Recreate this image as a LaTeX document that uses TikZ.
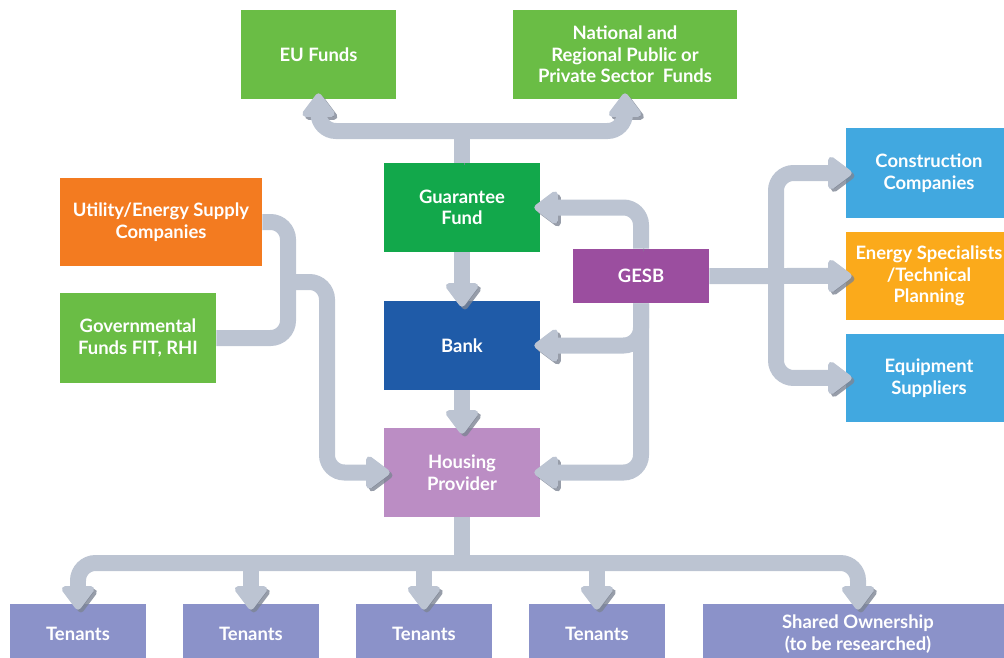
\documentclass[tikz,border=0pt]{standalone}
\usepackage{fontspec}
\setmainfont{Lato}
\usetikzlibrary{arrows.meta}
\definecolor{fundgreen}{HTML}{6ABD45}
\definecolor{guargreen}{HTML}{12A84B}
\definecolor{utilorange}{HTML}{F37B20}
\definecolor{gesbpurple}{HTML}{9B4E9F}
\definecolor{bankblue}{HTML}{1F5BA8}
\definecolor{houselilac}{HTML}{BB8DC4}
\definecolor{supplyblue}{HTML}{41A8E0}
\definecolor{specorange}{HTML}{FBAA1B}
\definecolor{tenantblue}{HTML}{8B92C9}
\definecolor{pipegray}{HTML}{BCC4D2}
\definecolor{pipeshade}{HTML}{7D8594}

\begin{document}
\begin{tikzpicture}
[x=0.02cm, y=-0.02cm, node distance=3.46cm, font=\fontsize{10.5}{12.3}\selectfont\bfseries]
\tikzstyle{box}=[inner sep=0mm, text=white, align=center, minimum width=3.12cm, minimum height=1.78cm]
\tikzstyle{pipe}=[draw=pipegray, line width=0.32cm, rounded corners=0.35cm, preaction={draw=pipeshade, opacity=0.8, transform canvas={xshift=1.6pt, yshift=-1.6pt}}]
\tikzstyle{pointed}=[-{Triangle[width=0.74cm, length=0.52cm, round, line width=4pt]}, shorten >=-0.12cm]
\useasboundingbox (0,0) rectangle (1004,657);

% funds and finance chain
\node[box, fill=fundgreen, minimum width=3.1cm]	(eu)	at (318.5,54.5)	{EU Funds};
\node[box, fill=fundgreen, minimum width=4.48cm]	(nat)	at (625,54.5)	{National and\\Regional Public or\\Private Sector\ \ Funds};
\node[box, fill=guargreen]	(guar)	at (462,207.5)	{Guarantee\\Fund};
\node[box, fill=bankblue]	(bank)	at (462,345.5)	{Bank};
\node[box, fill=houselilac]	(house)	at (462,472.5)	{Housing\\Provider};
\node[box, fill=utilorange, minimum width=4.04cm, minimum height=1.76cm]	(util)	at (161,222)	{Utility/Energy Supply\\Companies};
\node[box, fill=fundgreen, minimum height=1.8cm]	(gov)	at (138,338)	{Governmental\\Funds FIT, RHI};
\node[box, fill=gesbpurple, minimum width=2.72cm, minimum height=1.08cm]	(gesb)	at (641,276)	{GESB};

% suppliers
\node[box, fill=supplyblue, minimum width=3.32cm, minimum height=1.8cm]	(cons)	at (929,173)	{Construction\\Companies};
\node[box, fill=specorange, minimum width=3.32cm, minimum height=1.76cm]	(spec)	[below of=cons, node distance=2.06cm]	{Energy Specialists\\/Technical\\Planning};
\node[box, fill=supplyblue, minimum width=3.32cm, minimum height=1.76cm]	(equip)	[below of=spec, node distance=2.04cm]	{Equipment\\Suppliers};

% tenants
\node[box, fill=tenantblue, minimum width=2.72cm, minimum height=1.2cm]	(T1)	at (78,634)	{Tenants};
\node[box, fill=tenantblue, minimum width=2.72cm, minimum height=1.2cm]	(T2)	[right of=T1]	{Tenants};
\node[box, fill=tenantblue, minimum width=2.72cm, minimum height=1.2cm]	(T3)	[right of=T2]	{Tenants};
\node[box, fill=tenantblue, minimum width=2.72cm, minimum height=1.2cm]	(T4)	[right of=T3]	{Tenants};
\node[box, fill=tenantblue, minimum width=6.2cm, minimum height=1.2cm]	(T5)	at (858,634)	{Shared Ownership\\(to be researched)};

\coordinate (topj) at (462,131);
\coordinate (lj) at (288,282);
\coordinate (rj) at (776,276);
\coordinate (bj) at (462,563);

\draw[pipe]	(guar.north) -- (topj);
\draw[pipe, pointed]	(topj) -| (eu.south);
\draw[pipe, pointed]	(topj) -| (nat.south);
\draw[pipe, pointed]	(guar.south) -- (bank.north);
\draw[pipe, pointed]	(bank.south) -- (house.north);

\draw[pipe, pointed]	(gesb.north) |- (guar.east);
\draw[pipe, pointed]	(gesb.south) |- (bank.east);
\draw[pipe, pointed]	(gesb.south) |- (house.east);

\draw[pipe, pointed]	(gesb.east) -- (spec.west);
\draw[pipe, pointed]	(rj) |- (cons.west);
\draw[pipe, pointed]	(rj) |- (equip.west);

\draw[pipe]	(util.east) -| (lj) |- (gov.east);
\draw[pipe, pointed]	(lj) -- ++(39,0) |- (house.west);

\draw[pipe]	(house.south) -- (bj);
\draw[pipe, pointed]	(bj) -| (T1.north);
\draw[pipe, pointed]	(bj) -| (T5.north);
\draw[pipe, pointed]	(bj -| T2) -- (T2.north);
\draw[pipe, pointed]	(bj -| T3) -- (T3.north);
\draw[pipe, pointed]	(bj -| T4) -- (T4.north);
\end{tikzpicture}
\end{document}
